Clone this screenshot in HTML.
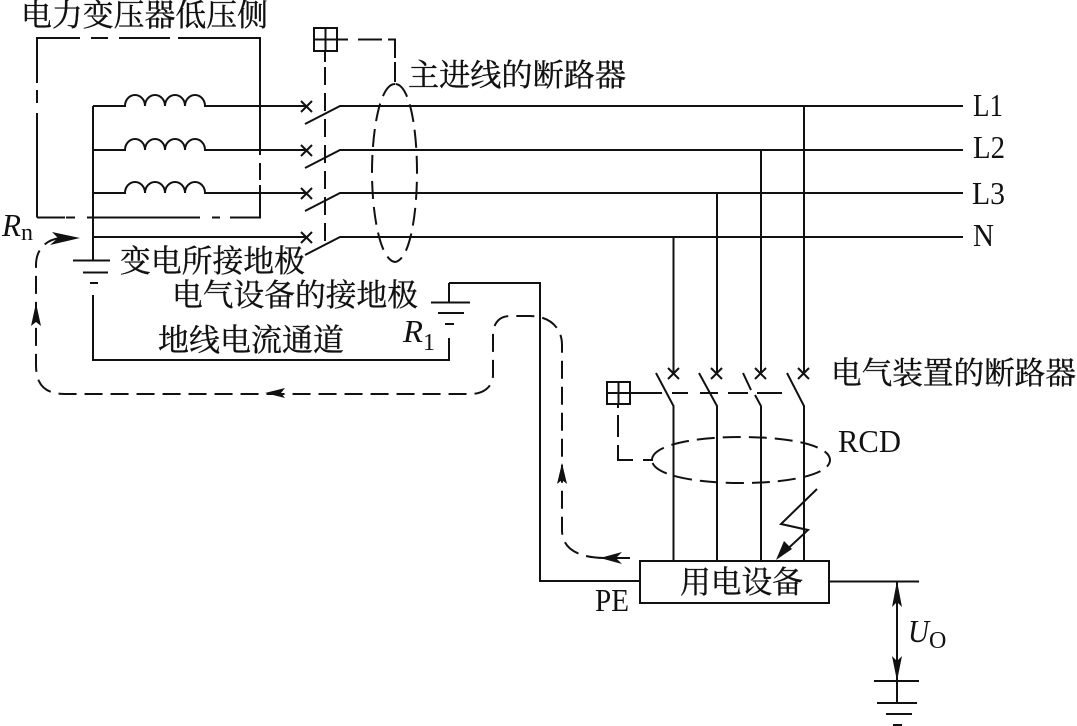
<!DOCTYPE html>
<html><head><meta charset="utf-8"><style>
html,body{margin:0;padding:0;background:#fff;width:1077px;height:726px;overflow:hidden}
svg{display:block}
.l{fill:none;stroke:#111;stroke-width:2}
.d{fill:none;stroke:#111;stroke-width:2;stroke-dasharray:18 8}
.c{font-family:"Liberation Serif","Noto Serif CJK SC",serif;font-size:31px;fill:#111;stroke:#111;stroke-width:.35}
.e{font-family:"Liberation Serif",serif;font-size:32px;fill:#111}
.s{font-family:"Liberation Serif",serif;font-size:24px;fill:#111}
.i{font-style:italic}
.a{fill:#111;stroke:none}
</style></head><body>
<svg width="1077" height="726" viewBox="0 0 1077 726" xmlns="http://www.w3.org/2000/svg">
<!-- transformer box -->
<path class="l" d="M37 83V38H80M91 38H108M119 38H170M178 38H260V155M260 163V180M260 185V217.500H230M220 217.500H212M200 217.500H87M75 217.500H66M37 217.500H65M37 217.500V113M37 103V90"/>
<!-- coils and lines -->
<path class="l" d="M93 106H125a10 11 0 0 1 20 0a10 11 0 0 1 20 0a10 11 0 0 1 20 0a10 11 0 0 1 20 0H306"/>
<path class="l" d="M93 150H125a10 11 0 0 1 20 0a10 11 0 0 1 20 0a10 11 0 0 1 20 0a10 11 0 0 1 20 0H306"/>
<path class="l" d="M93 193H125a10 11 0 0 1 20 0a10 11 0 0 1 20 0a10 11 0 0 1 20 0a10 11 0 0 1 20 0H306"/>
<path class="l" d="M93 106V261M93 237H306"/>
<!-- x marks -->
<path class="l" d="M301 101l11 11M312 101l-11 11M301 145l11 11M312 145l-11 11M301 188l11 11M312 188l-11 11M301 232l11 11M312 232l-11 11"/>
<!-- blades and buses -->
<path class="l" d="M305 124L340 106H963M305 168L340 150H963M305 211L340 193H963M305 255L340 237H963"/>
<!-- mech link -->
<rect class="l" x="314" y="28" width="23" height="23"/>
<path class="l" d="M325.500 28V51M314 39.500H337M325 51V62"/>
<path class="d" d="M325 67V243"/>
<path class="l" d="M337 39.500H348M358 39.500H382M388 39.500H395V58M395 62V82"/>
<path class="d" d="M395 84C380 84 372 130 372 172C372 214 380 260 395 262C410 260 417 214 417 172C417 130 410 84 395 84Z"/>
<!-- ground substation -->
<path class="l" d="M73 260.500H110M83 272.500H108M90 283H98"/>
<path class="l" d="M93 295V360H449V338M449 283V302M449 283H540V581H640"/>
<path class="l" d="M431 302.500H470M438 313H464M445 324H454"/>
<!-- feeder drops -->
<path class="l" d="M673.500 237V373M717 193V373M761 150V373M804 106V373"/>
<path class="l" d="M668 368l11 11M679 368l-11 11M711 368l11 11M722 368l-11 11M755 368l11 11M766 368l-11 11M798 368l11 11M809 368l-11 11"/>
<path class="l" d="M656 373L673.500 406V561M699 373L717 406V561M743 373L751 390M755 395L761 406V561M787 373L804 406V561"/>
<!-- lower mech link -->
<rect class="l" x="607" y="382" width="23" height="22"/>
<path class="l" d="M618.500 382V404M607 393H630M618 404V408M630 393H662"/>
<path class="l" d="M672 393H688M700 393H718M728 393H748M757 393H782M618 415V437M618 445V460H633M643 460H653"/>
<path class="d" d="M652 460C652 446 690 437 741 437C792 437 830 446 830 460C830 474 792 483 741 483C690 483 652 474 652 460Z"/>
<!-- device -->
<rect class="l" x="640" y="561" width="189" height="42" stroke-width="2.500"/>
<path class="l" d="M829 581.500H919"/>
<!-- lightning -->
<path class="l" d="M817 489L781 524L808 530L780 556"/>
<path class="a" d="M776 560L784 541L792 549Z"/>
<!-- Uo -->
<path class="l" d="M897 581V703M874 681H919M877 703H917M886 714H912M893 725H902"/>
<path class="a" d="M897 581L902 607L897 602L892 607Z"/>
<path class="a" d="M897 681L892 656L897 661L902 656Z"/>
<!-- return path -->
<path class="d" d="M630 558H606C580 558 562 550 562 530V345C562 328 550 316 530 316H510C498 316 493 325 493 335V375C493 387 483 394 470 394H65C45 394 36 385 36 365V265C36 250 45 240 60 238"/>
<path class="a" d="M36 303L41 326L36 322L31 326Z"/>
<path class="a" d="M265 393L285 388L281 393L285 398Z"/>
<path class="a" d="M80 238L52 232L58 238L50 245Z"/>
<path class="a" d="M562 463L567 484L562 480L557 484Z"/>
<path class="a" d="M600 558L622 552L616 558L622 564Z"/>
<!-- labels -->
<text class="c" x="21" y="26" textLength="247" lengthAdjust="spacingAndGlyphs">电力变压器低压侧</text>
<text class="c" x="408" y="86" textLength="218" lengthAdjust="spacingAndGlyphs">主进线的断路器</text>
<text class="c" x="120" y="272" textLength="185" lengthAdjust="spacingAndGlyphs">变电所接地极</text>
<text class="c" x="172" y="306" textLength="246" lengthAdjust="spacingAndGlyphs">电气设备的接地极</text>
<text class="c" x="158" y="351" textLength="186" lengthAdjust="spacingAndGlyphs">地线电流通道</text>
<text class="c" x="831" y="384" textLength="245" lengthAdjust="spacingAndGlyphs">电气装置的断路器</text>
<text class="c" x="680" y="593" textLength="123" lengthAdjust="spacingAndGlyphs">用电设备</text>
<text class="e" x="973" y="116" textLength="30" lengthAdjust="spacingAndGlyphs">L1</text>
<text class="e" x="973" y="158" textLength="32" lengthAdjust="spacingAndGlyphs">L2</text>
<text class="e" x="972" y="204" textLength="33" lengthAdjust="spacingAndGlyphs">L3</text>
<text class="e" x="973" y="246" textLength="21" lengthAdjust="spacingAndGlyphs">N</text>
<text class="e" x="838" y="452" textLength="63" lengthAdjust="spacingAndGlyphs">RCD</text>
<text class="e" x="595" y="611" textLength="34" lengthAdjust="spacingAndGlyphs">PE</text>
<text class="e i" x="2" y="236" textLength="19" lengthAdjust="spacingAndGlyphs">R</text>
<text class="s" x="21" y="240">n</text>
<text class="e i" x="403" y="342" textLength="20" lengthAdjust="spacingAndGlyphs">R</text>
<text class="s" x="423" y="350">1</text>
<text class="e i" x="908" y="642" textLength="21" lengthAdjust="spacingAndGlyphs">U</text>
<text class="s" x="929" y="648">O</text>
</svg>
</body></html>
